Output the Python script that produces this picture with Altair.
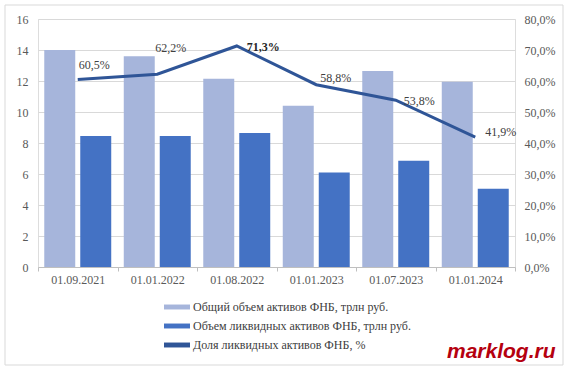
import altair as alt
import pandas as pd

dates = ["01.09.2021", "01.01.2022", "01.08.2022", "01.01.2023", "01.07.2023", "01.01.2024"]
total_assets = [14.0, 13.6, 12.15, 10.4, 12.65, 11.95]
liquid_assets = [8.45, 8.45, 8.65, 6.1, 6.85, 5.05]
liquid_share = [60.5, 62.2, 71.3, 58.8, 53.8, 41.9]

s_total = "Общий объем активов ФНБ, трлн руб."
s_liquid = "Объем ликвидных  активов ФНБ, трлн руб."
s_share = "Доля ликвидных  активов ФНБ, %"

bars_df = pd.DataFrame(
    [{"date": d, "series": s_total, "value": v} for d, v in zip(dates, total_assets)]
    + [{"date": d, "series": s_liquid, "value": v} for d, v in zip(dates, liquid_assets)]
)
line_df = pd.DataFrame({
    "date": dates,
    "share": liquid_share,
    "series": [s_share] * len(dates),
    "idx": list(range(len(dates))),
})
line_df["label"] = [f"{v:.1f}".replace(".", ",") + "%" for v in liquid_share]

FONT = "Liberation Serif"
color_scale = alt.Scale(domain=[s_total, s_liquid, s_share],
                        range=["#A6B5DB", "#4472C4", "#2F5597"])

x_enc = alt.X("date:N", sort=dates, title=None,
              scale=alt.Scale(paddingInner=0, paddingOuter=0),
              axis=alt.Axis(labelAngle=0, labelFont=FONT, labelFontSize=12,
                            labelColor="#595959", domainColor="#bfbfbf",
                            tickColor="#bfbfbf", tickSize=4, tickBand="extent",
                            labelPadding=3))

bars = alt.Chart(bars_df).mark_bar().encode(
    x=x_enc,
    xOffset=alt.XOffset("series:N", sort=[s_total, s_liquid],
                        scale=alt.Scale(paddingInner=0.139, paddingOuter=0.174)),
    y=alt.Y("value:Q", title=None,
            scale=alt.Scale(domain=[0, 16]),
            axis=alt.Axis(values=list(range(0, 17, 2)), labelFont=FONT,
                          labelFontSize=12, labelColor="#595959",
                          domain=False, ticks=False, labelPadding=10,
                          gridColor="#d9d9d9")),
    color=alt.Color("series:N", scale=color_scale, title=None,
                    legend=alt.Legend(orient="none", legendX=126, legendY=275,
                                      direction="vertical",
                                      labelFont=FONT, labelFontSize=12,
                                      labelColor="#404040", labelLimit=400,
                                      symbolType="M-1,-0.19H1V0.19H-1Z",
                                      symbolSize=676, symbolStrokeWidth=0,
                                      rowPadding=0, labelOffset=3)),
)

y_right = alt.Y("share:Q", title=None,
                scale=alt.Scale(domain=[0, 80]),
                axis=alt.Axis(orient="right", values=list(range(0, 81, 10)),
                              labelExpr="replace(format(datum.value, '.1f'), '.', ',') + '%'",
                              labelFont=FONT, labelFontSize=12, labelColor="#595959",
                              labelOverlap=False,
                              domain=False, ticks=False, grid=False, labelPadding=9))

base = alt.Chart(line_df).encode(x=alt.X("date:N", sort=dates), y=y_right)

line = base.mark_line(strokeWidth=3).encode(
    color=alt.Color("series:N", scale=color_scale),
)

offsets = [(1, -14), (-2, -26), (10, 1), (4, -7), (8, 1), (10, -5)]
label_layers = []
for i, (dx, dy) in enumerate(offsets):
    bold = i == 2
    label_layers.append(
        base.transform_filter(alt.datum.idx == i).mark_text(
            align="left", baseline="middle", dx=dx, dy=dy, font=FONT,
            fontSize=12, fontWeight="bold" if bold else "normal",
            color="#262626" if bold else "#404040",
        ).encode(text="label:N")
    )

frame = alt.Chart(pd.DataFrame({"k": [0]})).mark_rect(
    fill=None, stroke="#d9d9d9", strokeWidth=1
).encode(x=alt.value(-33), x2=alt.value(525), y=alt.value(-14), y2=alt.value(346))

watermark = alt.Chart(pd.DataFrame({"t": ["marklog.ru"]})).mark_text(
    align="left", baseline="alphabetic", font="Liberation Sans", fontSize=21,
    fontWeight="bold", fontStyle="italic", color="#B5000F"
).encode(text="t:N", x=alt.value(409), y=alt.value(339))

right_layer = alt.layer(line, *label_layers)
chart = alt.layer(frame, bars, right_layer, watermark).resolve_scale(
    y="independent", color="shared"
).properties(
    width=477, height=248,
    autosize=alt.AutoSizeParams(type="none"),
    padding={"left": 38, "top": 19, "right": 55, "bottom": 108},
).configure_view(stroke=None).configure(background="white", font=FONT)

chart.save("out.html", embed_options={"renderer": "svg", "actions": False})
